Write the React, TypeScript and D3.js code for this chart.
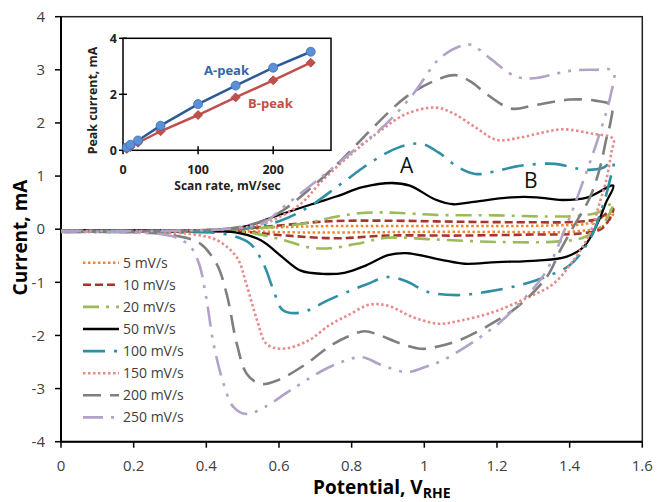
import React from "react";
import * as d3 from "d3";

type P = [number, number];

// Legend / series labels
const seriesLabels = ["5 mV/s", "10 mV/s", "20 mV/s", "50 mV/s", "100 mV/s", "150 mV/s", "200 mV/s", "250 mV/s"];

// CV loops: [potential V_RHE, current mA], anodic sweep then cathodic sweep
const cv5: P[] = [
  [0, -0.03], [0.3, -0.03], [0.5, 0.0], [0.62, 0.04], [0.75, 0.06], [1.0, 0.06], [1.2, 0.06], [1.35, 0.07], [1.45, 0.11], [1.52, 0.3],
  [1.49, 0.05], [1.42, -0.04], [1.2, -0.05], [1.0, -0.05], [0.8, -0.06], [0.65, -0.06], [0.5, -0.04], [0.3, -0.04], [0, -0.04],
];
const cv10: P[] = [
  [0, -0.03], [0.3, -0.03], [0.47, 0.0], [0.6, 0.07], [0.74, 0.15], [0.9, 0.16], [1.1, 0.14], [1.3, 0.13], [1.42, 0.14], [1.48, 0.2], [1.52, 0.38],
  [1.49, 0.02], [1.43, -0.08], [1.3, -0.1], [1.1, -0.12], [0.9, -0.12], [0.76, -0.17], [0.62, -0.12], [0.5, -0.05], [0.3, -0.04], [0, -0.04],
];
const cv20: P[] = [
  [0, -0.03], [0.3, -0.03], [0.47, 0.0], [0.6, 0.05], [0.68, 0.12], [0.76, 0.24], [0.84, 0.31], [0.92, 0.31], [1.03, 0.27], [1.2, 0.26], [1.34, 0.24], [1.42, 0.25], [1.48, 0.32], [1.52, 0.5],
  [1.49, 0.08], [1.44, -0.15], [1.37, -0.23], [1.2, -0.24], [1.02, -0.19], [0.9, -0.16], [0.81, -0.28], [0.74, -0.36], [0.68, -0.34], [0.6, -0.18], [0.5, -0.05], [0.3, -0.04], [0, -0.04],
];
const cv50: P[] = [
  [0, -0.02], [0.3, -0.02], [0.46, 0.0], [0.52, 0.07], [0.58, 0.22], [0.69, 0.47], [0.76, 0.62], [0.83, 0.79], [0.91, 0.87], [0.96, 0.82], [1.03, 0.56], [1.08, 0.47], [1.13, 0.51], [1.24, 0.6], [1.31, 0.6], [1.38, 0.55], [1.45, 0.6], [1.52, 0.82],
  [1.5, 0.5], [1.48, 0.16], [1.44, -0.32], [1.39, -0.52], [1.31, -0.59], [1.2, -0.62], [1.11, -0.65], [1.05, -0.58], [0.95, -0.45], [0.9, -0.49], [0.84, -0.68], [0.78, -0.82], [0.72, -0.84], [0.66, -0.78], [0.61, -0.53], [0.55, -0.21], [0.48, -0.06], [0.3, -0.04], [0, -0.03],
];
const cv100: P[] = [
  [0, -0.03], [0.3, -0.03], [0.45, -0.01], [0.53, 0.04], [0.6, 0.15], [0.68, 0.41], [0.77, 0.85], [0.86, 1.29], [0.93, 1.54], [0.99, 1.61], [1.04, 1.44], [1.09, 1.18], [1.14, 1.04], [1.19, 1.08], [1.26, 1.19], [1.36, 1.23], [1.44, 1.12], [1.49, 1.15], [1.52, 1.28],
  [1.51, 0.9], [1.49, 0.41], [1.455, -0.2], [1.4, -0.68], [1.34, -0.88], [1.27, -1.04], [1.17, -1.18], [1.09, -1.24], [1.01, -1.18], [0.95, -0.98], [0.9, -0.9], [0.84, -1.04], [0.74, -1.32], [0.66, -1.57], [0.61, -1.52], [0.585, -1.15], [0.557, -0.65], [0.52, -0.27], [0.45, -0.09], [0.3, -0.06], [0, -0.05],
];
const cv150: P[] = [
  [0, -0.03], [0.3, -0.03], [0.44, 0.0], [0.52, 0.05], [0.58, 0.16], [0.66, 0.48], [0.72, 0.92], [0.8, 1.42], [0.88, 1.86], [0.95, 2.17], [1.03, 2.29], [1.08, 2.18], [1.14, 1.92], [1.2, 1.68], [1.26, 1.72], [1.32, 1.81], [1.38, 1.88], [1.46, 1.8], [1.52, 1.7],
  [1.515, 1.45], [1.5, 0.9], [1.485, 0.55], [1.455, -0.09], [1.41, -0.59], [1.355, -1.03], [1.28, -1.3], [1.19, -1.56], [1.1, -1.72], [1.04, -1.78], [0.97, -1.66], [0.9, -1.44], [0.85, -1.42], [0.79, -1.62], [0.74, -1.8], [0.68, -2.1], [0.61, -2.25], [0.566, -2.16], [0.54, -1.72], [0.51, -1.03], [0.484, -0.53], [0.43, -0.21], [0.355, -0.09], [0.25, -0.06], [0, -0.05],
];
const cv200: P[] = [
  [0, -0.03], [0.3, -0.03], [0.42, -0.01], [0.5, 0.05], [0.56, 0.17], [0.61, 0.35], [0.68, 0.73], [0.77, 1.29], [0.86, 1.92], [0.95, 2.49], [1.03, 2.8], [1.085, 2.9], [1.13, 2.77], [1.17, 2.55], [1.24, 2.27], [1.3, 2.33], [1.4, 2.44], [1.47, 2.42], [1.515, 2.33],
  [1.512, 2.0], [1.5, 1.67], [1.484, 1.17], [1.456, 0.6], [1.41, 0.04], [1.374, -0.4], [1.337, -0.9], [1.26, -1.44], [1.19, -1.76], [1.1, -2.08], [1.03, -2.22], [0.99, -2.25], [0.93, -2.14], [0.875, -1.99], [0.835, -1.92], [0.79, -2.02], [0.74, -2.2], [0.676, -2.53], [0.594, -2.85], [0.548, -2.91], [0.511, -2.72], [0.484, -2.16], [0.456, -1.22], [0.428, -0.65], [0.383, -0.27], [0.337, -0.15], [0.25, -0.07], [0, -0.05],
];
const cv250: P[] = [
  [0, -0.03], [0.3, -0.03], [0.45, 0.0], [0.5, 0.04], [0.557, 0.12], [0.62, 0.46], [0.72, 1.0], [0.8, 1.45], [0.89, 1.95], [0.97, 2.55], [1.04, 3.2], [1.1, 3.45], [1.13, 3.47], [1.18, 3.22], [1.25, 2.88], [1.3, 2.84], [1.4, 2.98], [1.47, 3.0], [1.52, 2.98],
  [1.512, 2.5], [1.485, 1.85], [1.445, 1.05], [1.39, 0.05], [1.33, -0.85], [1.25, -1.48], [1.21, -1.74], [1.15, -2.05], [1.05, -2.47], [1.0, -2.6], [0.95, -2.69], [0.88, -2.55], [0.83, -2.41], [0.78, -2.48], [0.72, -2.66], [0.63, -3.04], [0.56, -3.35], [0.51, -3.48], [0.475, -3.35], [0.448, -2.92], [0.42, -2.16], [0.4, -1.3], [0.38, -0.65], [0.355, -0.32], [0.31, -0.14], [0.2, -0.06], [0, -0.05],
];
const cvLoops: P[][] = [cv5, cv10, cv20, cv50, cv100, cv150, cv200, cv250];

// Inset data
const scanRates = [5, 10, 20, 50, 100, 150, 200, 250];
const peakA = [0.1, 0.2, 0.35, 0.88, 1.65, 2.31, 2.95, 3.52];
const peakB = [0.05, 0.12, 0.27, 0.68, 1.26, 1.89, 2.5, 3.13];

// Tick labels
const xTicks = [0, 0.2, 0.4, 0.6, 0.8, 1, 1.2, 1.4, 1.6];
const yTicks = [-4, -3, -2, -1, 0, 1, 2, 3, 4];
const insetXTicks = [0, 100, 200];
const insetYTicks = [0, 2, 4];

const styles = [
  { color: "#F0862D", dash: "2.5,2.5", width: 2.5 },
  { color: "#A8332E", dash: "8,4", width: 2.6 },
  { color: "#9BBB59", dash: "16,7,3,7", width: 2.6 },
  { color: "#000000", dash: "", width: 2.3 },
  { color: "#2F8FA3", dash: "22,9,3,9", width: 2.6 },
  { color: "#E88A8A", dash: "2.5,2.5", width: 2.6 },
  { color: "#7F7F7F", dash: "18,9", width: 2.6 },
  { color: "#B3A2C7", dash: "20,8,3,8,3,8", width: 2.6 },
];

export default function App() {
  const W = 658, H = 502;
  const x = d3.scaleLinear().domain([0, 1.6]).range([61, 642.3]);
  const y = d3.scaleLinear().domain([-4, 4]).range([441.7, 16.7]);
  const line = d3
    .line<P>()
    .x((d) => x(d[0]))
    .y((d) => y(d[1]))
    .curve(d3.curveCatmullRom.alpha(0.5));

  const xi = d3.scaleLinear().domain([0, 277]).range([123, 331]);
  const yi = d3.scaleLinear().domain([0, 4]).range([150.3, 38.3]);
  const insetLine = d3
    .line<number>()
    .x((_, i) => xi(scanRates[i]))
    .y((d) => yi(d));

  const tickFont = "'Open Sans', sans-serif";
  const boldFont = "'Open Sans', sans-serif";
  const legendY0 = 262.7;
  const legendStep = 22.1;

  return (
    <svg width={W} height={H} style={{ position: "absolute", left: 0, top: 0, background: "#fff" }}>
      <rect x={0} y={0} width={W} height={H} fill="#fff" />
      {/* plot frame */}
      <rect x={x(0)} y={y(4)} width={x(1.6) - x(0)} height={y(-4) - y(4)} fill="none" stroke="#222" strokeWidth={1.5} />
      <line x1={x(0)} x2={x(0)} y1={y(4)} y2={y(-4)} stroke="#000" strokeWidth={2} />
      <line x1={x(0)} x2={x(1.6)} y1={y(-4)} y2={y(-4)} stroke="#000" strokeWidth={2} />

      {/* y ticks */}
      {yTicks.map((t) => (
        <g key={"y" + t}>
          <line x1={x(0) - 6} x2={x(0)} y1={y(t)} y2={y(t)} stroke="#000" strokeWidth={1.5} />
          <text x={45} y={y(t)} dy="0.35em" textAnchor="end" fontFamily={tickFont} fontSize={15} fill="#404040">
            {t}
          </text>
        </g>
      ))}
      {/* x ticks */}
      {xTicks.map((t) => (
        <g key={"x" + t}>
          <line x1={x(t)} x2={x(t)} y1={y(-4)} y2={y(-4) + 6} stroke="#000" strokeWidth={1.5} />
          <text x={x(t)} y={470.5} textAnchor="middle" fontFamily={tickFont} fontSize={15} fill="#404040">
            {t}
          </text>
        </g>
      ))}

      {/* axis titles */}
      <text
        transform="translate(27,237.5) rotate(-90)"
        textAnchor="middle"
        fontFamily={boldFont}
        fontWeight="bold"
        fontSize={19}
        fill="#000"
      >
        Current, mA
      </text>
      <text x={313} y={494} fontFamily={boldFont} fontWeight="bold" fontSize={19} fill="#000">
        Potential, V
        <tspan fontSize={14} dy={4}>RHE</tspan>
      </text>

      {/* CV curves */}
      {cvLoops.map((loop, i) => (
        <path
          key={"cv" + i}
          d={line(loop) || ""}
          fill="none"
          stroke={styles[i].color}
          strokeWidth={styles[i].width}
          strokeDasharray={styles[i].dash || undefined}
          strokeLinejoin="round"
        />
      ))}

      {/* peak labels */}
      <text x={400} y={173} fontFamily={tickFont} fontSize={21} fill="#111">A</text>
      <text x={524} y={188} fontFamily={tickFont} fontSize={21} fill="#111">B</text>

      {/* legend */}
      {seriesLabels.map((lab, i) => {
        const ly = legendY0 + i * legendStep;
        return (
          <g key={"lg" + i}>
            <line
              x1={83}
              x2={119}
              y1={ly}
              y2={ly}
              stroke={styles[i].color}
              strokeWidth={styles[i].width}
              strokeDasharray={styles[i].dash || undefined}
            />
            <text x={123} y={ly} dy="0.35em" fontFamily={tickFont} fontSize={14} fill="#404040">
              {lab}
            </text>
          </g>
        );
      })}

      {/* inset */}
      <rect x={xi(0)} y={yi(4)} width={331 - 123} height={yi(0) - yi(4)} fill="#fff" stroke="#000" strokeWidth={1.5} />
      {insetXTicks.map((t) => (
        <g key={"ix" + t}>
          <line x1={xi(t)} x2={xi(t)} y1={yi(0) - 4} y2={yi(0) + 4} stroke="#000" strokeWidth={1.5} />
          <text x={xi(t)} y={174} textAnchor="middle" fontFamily={boldFont} fontWeight="bold" fontSize={12.5} fill="#222">
            {t}
          </text>
        </g>
      ))}
      {insetYTicks.map((t) => (
        <g key={"iy" + t}>
          <line x1={xi(0) - 4} x2={xi(0) + 4} y1={yi(t)} y2={yi(t)} stroke="#000" strokeWidth={1.5} />
          <text x={117} y={yi(t)} dy="0.35em" textAnchor="end" fontFamily={boldFont} fontWeight="bold" fontSize={12.5} fill="#222">
            {t}
          </text>
        </g>
      ))}
      <text x={227.5} y={190} textAnchor="middle" fontFamily={boldFont} fontWeight="bold" fontSize={12} fill="#222">
        Scan rate, mV/sec
      </text>
      <text
        transform="translate(97,100.5) rotate(-90)"
        textAnchor="middle"
        fontFamily={boldFont}
        fontWeight="bold"
        fontSize={12.4}
        fill="#222"
      >
        Peak current, mA
      </text>
      <path d={insetLine(peakB) || ""} fill="none" stroke="#C0504D" strokeWidth={2.5} />
      <path d={insetLine(peakA) || ""} fill="none" stroke="#2B5A98" strokeWidth={2.5} />
      {peakB.map((v, i) => {
        const cx = xi(scanRates[i]);
        const cy = yi(v);
        const s = 4.5;
        return (
          <path
            key={"pb" + i}
            d={`M${cx},${cy - s}L${cx + s},${cy}L${cx},${cy + s}L${cx - s},${cy}Z`}
            fill="#C0504D"
            stroke="#B0403D"
            strokeWidth={0.8}
          />
        );
      })}
      {peakA.map((v, i) => (
        <circle key={"pa" + i} cx={xi(scanRates[i])} cy={yi(v)} r={4.5} fill="#5B8FD6" stroke="#3F6FB0" strokeWidth={0.8} />
      ))}
      <text x={204} y={75} fontFamily={boldFont} fontWeight="bold" fontSize={13} fill="#3366AA">
        A-peak
      </text>
      <text x={248} y={108} fontFamily={boldFont} fontWeight="bold" fontSize={13} fill="#C0504D">
        B-peak
      </text>
    </svg>
  );
}
